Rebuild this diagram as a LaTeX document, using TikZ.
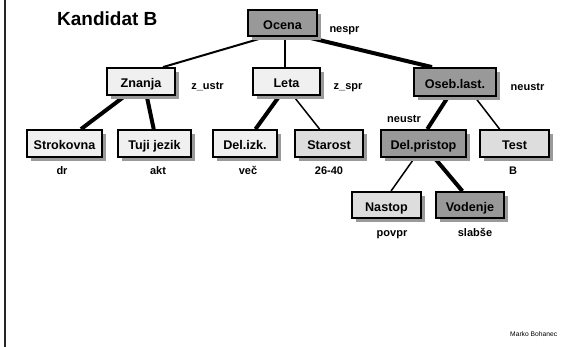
\documentclass[tikz,border=0pt]{standalone}
\usepackage{fontspec}
\setmainfont{Liberation Sans}
\usetikzlibrary{calc,shadows,backgrounds}
\pgfdeclarelayer{canvas}
\pgfsetlayers{canvas,background,main}
\definecolor{darkbox}{HTML}{999999}
\definecolor{lightbox}{HTML}{F0F0F0}
\definecolor{midbox}{HTML}{DDDDDD}
\definecolor{shadowgray}{HTML}{9A9A9A}
\tikzset{
  attrbox/.style={draw=black, line width=1.8pt, inner sep=0pt, anchor=center,
    text height=13pt, text depth=0pt,
    font=\bfseries\fontsize{12.6}{14}\selectfont,
    drop shadow={shadow xshift=4pt, shadow yshift=-4pt, fill=shadowgray, opacity=1}},
  darkfill/.style={attrbox, fill=darkbox},
  lightfill/.style={attrbox, fill=lightbox},
  midfill/.style={attrbox, fill=midbox},
  vallabel/.style={inner sep=0pt, anchor=base, font=\bfseries\fontsize{11}{13}\selectfont},
  thinedge/.style={line width=1.5pt, draw=black},
  midedge/.style={line width=2pt, draw=black},
  thickedge/.style={line width=4pt, draw=black},
}
\begin{document}
\begin{tikzpicture}[x=1pt,y=-1pt]
\useasboundingbox (0,0) rectangle (571,347);
\begin{pgfonlayer}{canvas}
\fill[white] (0,0) rectangle (571,347);
\end{pgfonlayer}
\draw[line width=2.5pt, black!85] (5,0) -- (5,347);

\node[inner sep=0pt, anchor=base west, font=\bfseries\fontsize{19}{22}\selectfont] (title) at (57,26) {Kandidat B};
\node[inner sep=0pt, anchor=base west, font=\fontsize{6.7}{8}\selectfont] (author) at (510,336.5) {Marko Bohanec};

% boxes
\node[darkfill, minimum width=69pt, minimum height=26pt] (ocena) at (282.5,23) {Ocena};
\node[lightfill, minimum width=68pt, minimum height=27pt] (znanja) at (141,81.5) {Znanja};
\node[lightfill, minimum width=67pt, minimum height=27pt] (leta) at (286.5,81.5) {Leta};
\node[darkfill, minimum width=82pt, minimum height=28pt] (oseb) at (455,82) {Oseb.last.};
\node[lightfill, minimum width=75pt, minimum height=27pt] (strok) at (64.5,143.5) {Strokovna};
\node[lightfill, minimum width=73pt, minimum height=27pt] (tuji) at (154.5,143.5) {Tuji jezik};
\node[lightfill, minimum width=64pt, minimum height=27pt] (delizk) at (245,143.5) {Del.izk.};
\node[midfill, minimum width=68pt, minimum height=27pt] (starost) at (329,143.5) {Starost};
\node[darkfill, minimum width=85pt, minimum height=27pt] (delpr) at (423.5,143.5) {Del.pristop};
\node[midfill, minimum width=69pt, minimum height=27pt] (test) at (514.5,143.5) {Test};
\node[midfill, minimum width=69pt, minimum height=26pt] (nastop) at (386.5,205) {Nastop};
\node[darkfill, minimum width=68pt, minimum height=26pt] (vodenje) at (470,205) {Vodenje};

% value labels
\node[vallabel] (locena) at (344.5,33) {nespr};
\node[vallabel] (lznanja) at (207.5,90) {z\_ustr};
\node[vallabel] (lleta) at (348,90) {z\_spr};
\node[vallabel] (loseb) at (527.5,90.5) {neustr};
\node[vallabel] (ldelpr) at (404,122.5) {neustr};
\node[vallabel] (lstrok) at (62,175) {dr};
\node[vallabel] (ltuji) at (158,175) {akt};
\node[vallabel] (ldelizk) at (248,175) {več};
\node[vallabel] (lstarost) at (329,175) {26-40};
\node[vallabel] (ltest) at (513,175) {B};
\node[vallabel] (lnastop) at (392,237) {povpr};
\node[vallabel] (lvodenje) at (475,237) {slabše};

% connectors
\begin{pgfonlayer}{background}
\draw[midedge] ($(ocena.south)+(-16.5,0)$) -- ($(znanja.north)+(22,0)$);
\draw[thinedge] ($(ocena.south)+(2.5,0)$) -- ($(leta.north)+(-1.5,0)$);
\draw[thickedge] ($(ocena.south)+(23.5,0)$) -- ($(oseb.north)+(-23,0)$);
\draw[thickedge] ($(znanja.south)+(-16,0)$) -- ($(strok.north)+(16.5,0)$);
\draw[thickedge] ($(znanja.south)+(5.7,0)$) -- ($(tuji.north)+(-0.8,0)$);
\draw[thickedge] ($(leta.south)+(-7,0)$) -- ($(delizk.north)+(10.5,0)$);
\draw[thinedge] ($(leta.south)+(6.8,0)$) -- ($(starost.north)+(-9.4,0)$);
\draw[thickedge] ($(oseb.south)+(-7,0)$) -- ($(delpr.north)+(3.8,0)$);
\draw[thinedge] ($(oseb.south)+(19.8,0)$) -- ($(test.north)+(-14.9,0)$);
\draw[thinedge] ($(delpr.south)+(-9,0)$) -- ($(nastop.north)+(4.5,0)$);
\draw[thickedge] ($(delpr.south)+(11,0)$) -- ($(vodenje.north)+(-7.6,0)$);
\end{pgfonlayer}
\end{tikzpicture}
\end{document}
